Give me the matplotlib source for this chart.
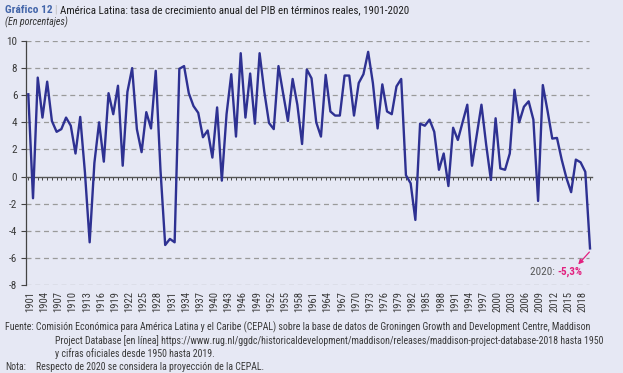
import matplotlib
matplotlib.use("Agg")
import matplotlib.pyplot as plt
import matplotlib.transforms as mtransforms

years = list(range(1901, 2021))
growth = [
    6.07, -1.6, 7.3, 4.35, 7.0, 4.1, 3.3, 3.5, 4.35, 3.75,   # 1901-1910
    1.7, 4.4, 0.3, -4.85, 1.0, 4.0, 1.1, 6.15, 4.6, 6.7,     # 1911-1920
    0.8, 6.25, 8.0, 3.5, 1.8, 4.75, 3.55, 7.8, 0.5, -5.05,   # 1921-1930
    -4.6, -4.85, 7.95, 8.15, 6.15, 5.2, 4.7, 2.9, 3.4, 1.4,  # 1931-1940
    5.1, -0.3, 4.6, 7.55, 2.95, 9.1, 4.35, 7.6, 3.9, 9.1,    # 1941-1950
    6.25, 3.95, 3.5, 8.15, 6.1, 4.1, 7.2, 5.3, 2.4, 7.9,     # 1951-1960
    7.25, 4.0, 2.95, 7.5, 4.8, 4.5, 4.5, 7.45, 7.45, 4.5,    # 1961-1970
    6.9, 7.55, 9.2, 6.9, 3.55, 6.8, 4.8, 4.6, 6.65, 7.2,     # 1971-1980
    0.1, -0.5, -3.2, 3.9, 3.75, 4.2, 3.3, 0.5, 1.7, -0.7,    # 1981-1990
    3.6, 2.7, 4.0, 5.3, 0.8, 3.05, 5.3, 2.35, -0.25, 4.3,    # 1991-2000
    0.6, 0.5, 1.7, 6.4, 4.0, 5.15, 5.55, 4.2, -1.8, 6.75,    # 2001-2010
    4.85, 2.8, 2.85, 1.25, -0.1, -1.15, 1.25, 1.05, 0.35, -5.3,  # 2011-2020
]
yticks = [10, 8, 6, 4, 2, 0, -2, -4, -6, -8]
label_years = list(range(1901, 2019, 3))

title_num = "Gráfico 12"
title_txt = "América Latina: tasa de crecimiento anual del PIB en términos reales, 1901-2020"
subtitle = "(En porcentajes)"
note_line1 = "Fuente: Comisión Económica para América Latina y el Caribe (CEPAL) sobre la base de datos de Groningen Growth and Development Centre, Maddison"
note_line2 = "Project Database [en línea] https://www.rug.nl/ggdc/historicaldevelopment/maddison/releases/maddison-project-database-2018 hasta 1950"
note_line3 = "y cifras oficiales desde 1950 hasta 2019."
note_label = "Nota:"
note_line4 = "Respecto de 2020 se considera la proyección de la CEPAL."

plt.rcParams['font.family'] = ['Roboto Condensed', 'DejaVu Sans']

BG = '#E6E8F4'
LINE = '#2E3192'
MAG = '#E2207F'
TXT = '#3A3A3A'
W, H = 623, 373
fig = plt.figure(figsize=(W / 100, H / 100), dpi=100, facecolor=BG)

x0, x1 = 25.7, 592
ytop, ybot = 41, 285
ax = fig.add_axes([x0 / W, 1 - ybot / H, (x1 - x0) / W, (ybot - ytop) / H])
ax.set_facecolor(BG)
ax.set_xlim(1900.45, 2020.42)
ax.set_ylim(-8, 10)

for v in yticks:
    if v != 0:
        ax.axhline(v, color='#9A9A9A', lw=0.9, ls=(0, (4, 3)), zorder=1, xmax=0.995)

ax.plot(years, growth, color=LINE, lw=1.7, zorder=3)

for s in ['top', 'right']:
    ax.spines[s].set_visible(False)
ax.spines['left'].set_color('#444444')
ax.spines['left'].set_linewidth(0.9)
ax.spines['bottom'].set_position(('data', 0))
ax.spines['bottom'].set_color('#555555')
ax.spines['bottom'].set_linewidth(1.0)

ax.set_yticks(yticks)
ax.set_yticklabels([str(v) for v in yticks])
ax.tick_params(axis='y', direction='out', length=3.5, width=0.8, color='#444444',
               labelsize=8, labelcolor=TXT, pad=2.5)
ax.set_xticks(years)
ax.set_xticklabels([])
ax.tick_params(axis='x', direction='out', length=2.2, width=0.7, color='#444444')

trans = mtransforms.blended_transform_factory(ax.transData, ax.transAxes)
for yr in label_years:
    ax.text(yr + 0.4, -0.025, str(yr), transform=trans, rotation=90, ha='center', va='top',
            fontsize=7.7, color=TXT)

# annotation
ax.annotate("", xy=(2017.5, -6.48), xytext=(2019.86, -5.57),
            arrowprops=dict(arrowstyle='-|>', color=MAG, lw=0.9, mutation_scale=7, shrinkA=0, shrinkB=0))
ax.text(2013.0, -7.02, "2020: ", ha='right', va='center', fontsize=8, color='#555555')
ax.text(2013.0, -7.02, "-5,3%", ha='left', va='center', fontsize=8, color=MAG, fontweight='bold')

# titles
fig.text(5 / W, 1 - 10 / H, title_num, ha='left', va='center', fontsize=8.2, fontweight='bold', color='#4466AA')
fig.text(54.5 / W, 1 - 10 / H, "|", ha='left', va='center', fontsize=7.5, color='#BBBBBB')
fig.text(60 / W, 1 - 10 / H, title_txt, ha='left', va='center', fontsize=7.9, color='#1E1E1E')
fig.text(5 / W, 1 - 22 / H, subtitle, ha='left', va='center', fontsize=7.2, style='italic', color='#333333')

FS = 7.1
fig.text(5 / W, 1 - 327 / H, note_line1, ha='left', va='center', fontsize=FS, color=TXT)
fig.text(55 / W, 1 - 341 / H, note_line2, ha='left', va='center', fontsize=FS, color=TXT)
fig.text(55 / W, 1 - 354 / H, note_line3, ha='left', va='center', fontsize=FS, color=TXT)
fig.text(5 / W, 1 - 367 / H, note_label, ha='left', va='center', fontsize=FS, color=TXT)
fig.text(36 / W, 1 - 367 / H, note_line4, ha='left', va='center', fontsize=FS, color=TXT)

fig.savefig('out.png', dpi=100, facecolor=BG)
